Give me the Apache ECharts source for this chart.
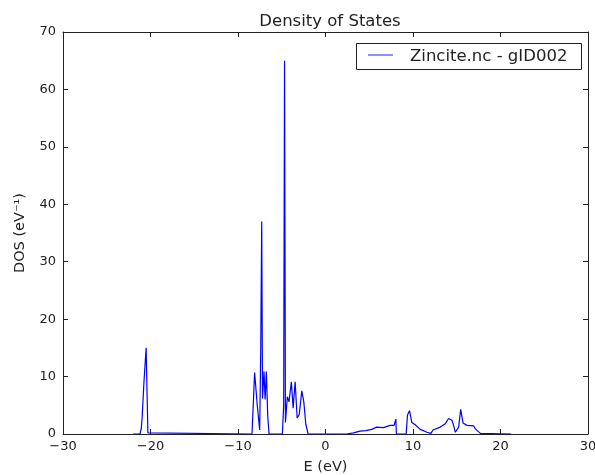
<!DOCTYPE html>
<html><head><meta charset="utf-8">
<script src="https://cdn.jsdelivr.net/npm/echarts@6/dist/echarts.min.js"></script>
<style>html,body{margin:0;padding:0;background:#fff}#c{width:595px;height:475px}</style>
</head><body><div id="c"></div>
<script>
var energies = [-22, -21.2, -21.05, -20.95, -20.75, -20.62, -20.5, -20.45, -20.3, -20.2,
  -8.4, -8.36, -8.1, -7.8, -7.52, -7.4, -7.29, -7.2, -7.03, -6.9, -6.76, -6.6, -6.45,
  -4.93, -4.78, -4.68, -4.58, -4.47, -4.36, -4.17, -3.9, -3.7, -3.47, -3.24, -3.0, -2.71, -2.48, -2.25, -1.98,
  2.4, 3.2, 3.94, 4.6, 5.28, 5.85, 6.62, 7.38, 7.84, 7.95, 8.04, 8.1,
  9.22, 9.37, 9.6, 9.87, 10.25, 10.83, 11.59, 12.05, 12.28, 13.12, 13.69, 14.07, 14.45, 14.64, 14.84,
  15.22, 15.3, 15.45, 15.72, 16.18, 16.94, 17.13, 17.7, 21.23];
var dos = [0, 0, 1, 3, 9, 9.2, 15, 15, 0.2, 0,
  0, 0, 10.7, 5, 0.7, 15, 37, 6.2, 10.9, 6, 10.9, 3, 0,
  0, 5, 65, 2, 2.2, 6.5, 5.6, 9.1, 4.5, 9.1, 2.8, 3.4, 7.5, 5.6, 1.7, 0,
  0, 0.2, 0.5, 0.6, 0.8, 1.2, 1.1, 1.5, 1.5, 1.6, 2.6, 0,
  0, 3.3, 4.06, 2.0, 1.6, 0.8, 0.3, 0.1, 0.7, 1.2, 1.8, 2.7, 2.4, 1.5, 0.3,
  1.2, 1.5, 4.3, 1.9, 1.5, 1.4, 0.9, 0.1, 0];
var xTicks = {min: -30, max: 30, step: 10};
var yTicks = {min: 0, max: 70, step: 10};
var seriesName = 'Zincite.nc - gID002';

var pts = energies.map(function (e, i) { return [e, dos[i]]; });
var font = 'DejaVu Sans';
function minus(v) { return String(v).replace('-', '\u2212'); }
var chart = echarts.init(document.getElementById('c'));
var axisCommon = {
  axisLine: {show: true, onZero: false, lineStyle: {color: '#222', width: 1}},
  axisTick: {show: true, inside: true, length: 5, lineStyle: {color: '#222'}},
  splitLine: {show: false}
};
chart.setOption({
  animation: false,
  title: {text: 'Density of States', left: 325, top: 8, textAlign: 'center',
    textStyle: {fontFamily: font, fontSize: 16.5, fontWeight: 'normal', color: '#222'}},
  grid: {left: 63, right: 7, top: 32, bottom: 41, containLabel: false, outerBoundsMode: 'none'},
  legend: {show: false},
  xAxis: [
    Object.assign({type: 'value', min: xTicks.min, max: xTicks.max, interval: xTicks.step, position: 'bottom',
      name: 'E (eV)', nameLocation: 'middle', nameGap: 26,
      nameTextStyle: {fontFamily: font, fontSize: 14.5, color: '#222'},
      axisLabel: {fontFamily: font, fontSize: 13, color: '#222', margin: 6, formatter: minus}}, axisCommon),
    Object.assign({type: 'value', min: xTicks.min, max: xTicks.max, interval: xTicks.step, position: 'top',
      axisLabel: {show: false}}, axisCommon)
  ],
  yAxis: [
    Object.assign({type: 'value', min: yTicks.min, max: yTicks.max, interval: yTicks.step, position: 'left',
      name: 'DOS (eV\u207B\u00B9)', nameLocation: 'middle', nameGap: 35,
      nameTextStyle: {fontFamily: font, fontSize: 14.5, color: '#222'},
      axisLabel: {fontFamily: font, fontSize: 13, color: '#222', margin: 7, formatter: minus}}, axisCommon),
    Object.assign({type: 'value', min: yTicks.min, max: yTicks.max, interval: yTicks.step, position: 'right',
      axisLabel: {show: false}}, axisCommon)
  ],
  series: [{
    type: 'line', name: seriesName, data: pts, showSymbol: false, smooth: false,
    lineStyle: {color: '#0000ff', width: 1.2}, itemStyle: {color: '#0000ff'}
  }],
  graphic: [
    {type: 'rect', shape: {x: 356.5, y: 43.5, width: 225, height: 26},
      style: {fill: '#fff', stroke: '#222', lineWidth: 1}},
    {type: 'line', shape: {x1: 368, y1: 55, x2: 393, y2: 55},
      style: {stroke: '#4444ff', lineWidth: 1.2}},
    {type: 'text', style: {x: 410, y: 56.5, text: seriesName, fontFamily: font, fontSize: 16.5,
      fill: '#222', textVerticalAlign: 'middle', verticalAlign: 'middle'}}
  ]
});
</script></body></html>
